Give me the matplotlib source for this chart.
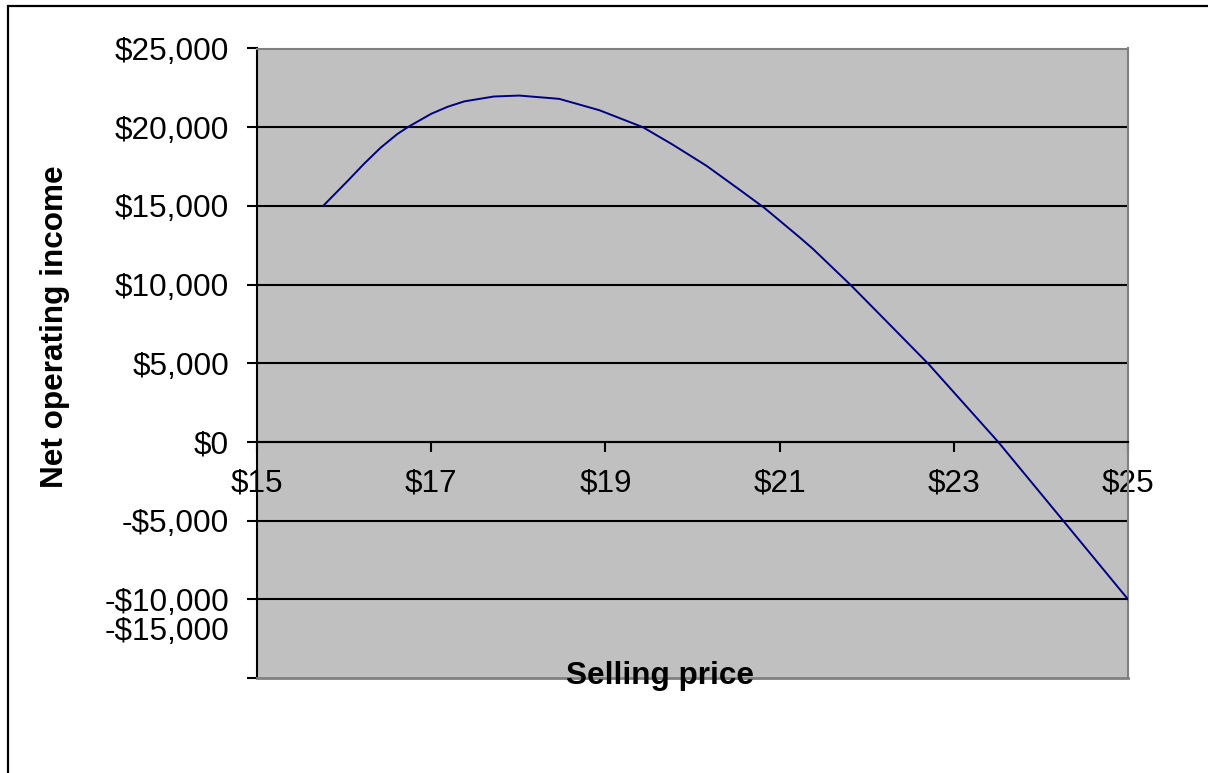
import matplotlib.pyplot as plt
from matplotlib.patches import Rectangle

plt.rcParams['font.family'] = ['Liberation Sans', 'DejaVu Sans']

# Net operating income at each selling price
price = [15.76, 16.04, 16.23, 16.42, 16.61, 16.73, 17.00, 17.19, 17.38, 17.72,
         18.01, 18.47, 18.93, 19.43, 19.77, 20.16, 20.54, 20.83, 21.23, 21.38,
         21.82, 22.26, 22.71, 23.51, 24.26, 25.00]
noi = [15000, 16580, 17680, 18700, 19560, 20000, 20850, 21300, 21640, 21950,
       22010, 21800, 21080, 20000, 18900, 17550, 16030, 14850, 13000, 12280,
       9950, 7480, 4950, 0, -5030, -10000]

x_ticks = [15, 17, 19, 21, 23, 25]
y_ticks = [-15000, -10000, -5000, 0, 5000, 10000, 15000, 20000, 25000]

FS = 22.7
GRAY = '#808080'


def money(v):
    return ('-$' if v < 0 else '$') + f'{abs(v):,.0f}'


W, H = 1208, 773
fig = plt.figure(figsize=(W / 100, H / 100), dpi=100)
ax = fig.add_axes([257 / W, 1 - 678 / H, 871 / W, (678 - 48.5) / H])
ax.set_facecolor('#C0C0C0')

# horizontal gridlines, the outer two are the plot-area border
for v in y_ticks[1:-1]:
    ax.axhline(v, color='black', lw=1.5, zorder=1)

ax.plot(price, noi, color='#000080', lw=1.4, zorder=3)

ax.set_xlim(15, 25)
ax.set_ylim(-15000, 25000)

ax.set_xticks(x_ticks, [f'${v}' for v in x_ticks])
ax.set_yticks(y_ticks, [money(v) if v != -15000 else '' for v in y_ticks])
ax.tick_params(axis='x', direction='out', length=7.2, width=1.5,
               labelsize=FS, pad=12)
ax.tick_params(axis='y', direction='out', length=7.2, width=1.5,
               labelsize=FS, pad=13)

# category axis crosses at zero, like the spreadsheet chart
ax.spines['bottom'].set_position(('data', 0))
ax.spines['bottom'].set_linewidth(1.5)
ax.spines['left'].set_linewidth(1.5)
for side in ('top', 'right'):
    ax.spines[side].set_color(GRAY)
    ax.spines[side].set_linewidth(1.5)
ax.axhline(-15000, color=GRAY, lw=2, clip_on=False, zorder=4)

# lowest value label sits squeezed above its tick
ax.annotate(money(-15000), xy=(0, -15000), xycoords=('axes fraction', 'data'),
            xytext=(-(7.2 + 13), 33), textcoords='offset points',
            ha='right', va='center', fontsize=FS)

fig.text(660 / W, 1 - 676 / H, 'Selling price', ha='center', va='center',
         fontsize=FS, fontweight='bold')
fig.text(55 / W, 1 - 327 / H, 'Net operating income', ha='center',
         va='center', rotation=90, fontsize=FS, fontweight='bold')

# chart frame, running off the right and bottom edges
fig.patches.append(Rectangle((8 / W, -0.1), 1.2, 1.1 - 6 / H,
                             transform=fig.transFigure, fill=False,
                             ec='black', lw=1.6))

fig.savefig('out.png', dpi=100)
